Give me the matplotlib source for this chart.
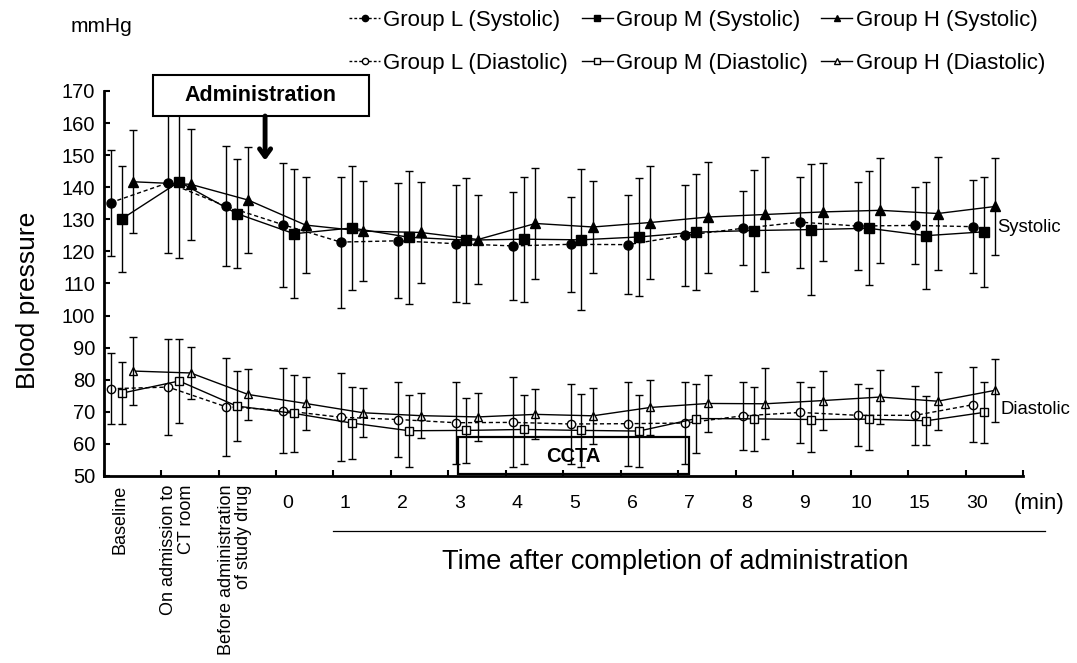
import matplotlib
matplotlib.use("Agg")
import matplotlib.pyplot as plt
from matplotlib.lines import Line2D
from matplotlib.patches import Rectangle
import numpy as np

plt.rcParams['font.family'] = ['Liberation Sans', 'DejaVu Sans']

categories = ["Baseline", "On admission to\nCT room", "Before administration\nof study drug",
              "0", "1", "2", "3", "4", "5", "6", "7", "8", "9", "10", "15", "30"]

sys_L = [135.2, 141.4, 134.1, 128.3, 122.9, 123.3, 122.4, 121.7, 122.2, 122.1, 125.0, 127.2, 129.1, 127.9, 128.1, 127.7]
sd_sys_L = [16.5, 22.0, 18.6, 19.3, 20.4, 17.9, 18.3, 16.9, 14.9, 15.5, 15.7, 11.6, 14.2, 13.7, 11.9, 14.5]
sys_M = [130.1, 141.7, 131.8, 125.5, 127.3, 124.4, 123.5, 123.8, 123.6, 124.5, 126.0, 126.5, 126.8, 127.2, 124.9, 126.1]
sd_sys_M = [16.6, 23.7, 16.9, 20.1, 19.3, 20.8, 19.5, 19.5, 22.0, 18.3, 18.1, 18.9, 20.4, 17.7, 16.6, 17.1]
sys_H = [141.7, 140.9, 136.0, 128.2, 126.3, 125.9, 123.7, 128.7, 127.6, 129.0, 130.7, 131.5, 132.3, 132.8, 131.8, 134.0]
sd_sys_H = [16.0, 17.3, 16.4, 14.9, 15.5, 15.6, 13.9, 17.2, 14.2, 17.6, 17.3, 17.8, 15.2, 16.3, 17.6, 15.1]

dia_L = [77.2, 77.7, 71.6, 70.4, 68.3, 67.6, 66.6, 66.7, 66.2, 66.3, 66.5, 68.75, 69.8, 68.9, 68.9, 72.2]
sd_dia_L = [11.1, 15.0, 15.3, 13.3, 13.7, 11.8, 12.8, 14.0, 12.4, 13.1, 12.7, 10.6, 9.4, 9.7, 9.2, 11.7]
dia_M = [75.8, 79.6, 71.8, 69.5, 66.5, 64.1, 64.2, 64.5, 64.2, 64.0, 67.9, 67.8, 67.6, 67.7, 67.2, 69.8]
sd_dia_M = [9.6, 13.1, 10.8, 12.0, 11.3, 11.2, 10.2, 10.8, 11.3, 11.3, 10.7, 10.0, 10.2, 9.6, 7.7, 9.4]
dia_H = [82.7, 82.1, 75.4, 72.6, 69.7, 68.8, 68.4, 69.2, 68.75, 71.35, 72.6, 72.5, 73.5, 74.6, 73.3, 76.7]
sd_dia_H = [10.6, 8.2, 7.9, 8.3, 7.6, 7.0, 7.4, 7.8, 8.8, 8.6, 8.8, 11.1, 9.2, 8.5, 9.0, 9.8]

fig = plt.figure(figsize=(10.77, 6.63), dpi=100)
ax = fig.add_axes([0.0962, 0.2821, 0.8537, 0.5807])

x = np.arange(len(categories))
offsets = {'L': -0.19, 'M': 0.0, 'H': 0.2}

series = [
    ('L', sys_L, sd_sys_L, 'o', 'black', (0, (3, 2)), 6.5),
    ('M', sys_M, sd_sys_M, 's', 'black', '-', 6.5),
    ('H', sys_H, sd_sys_H, '^', 'black', '-', 7.0),
    ('L', dia_L, sd_dia_L, 'o', 'white', (0, (3, 2)), 6.0),
    ('M', dia_M, sd_dia_M, 's', 'white', '-', 6.0),
    ('H', dia_H, sd_dia_H, '^', 'white', '-', 6.0),
]
for g, vals, sds, mk, fc, ls, ms in series:
    xs = x + offsets[g]
    ax.plot(xs, vals, linestyle=ls, color='black', lw=1.0, marker=mk, ms=ms,
            mfc=fc, mec='black', mew=1.0, zorder=3)
    ax.errorbar(xs, vals, yerr=sds, fmt='none', ecolor='black', elinewidth=1.0,
                capsize=2.6, capthick=1.0, zorder=4)

ax.set_xlim(-0.315, 15.685)
ax.set_ylim(50, 170)
ax.set_yticks(np.arange(50, 171, 10))
ax.set_xticks(np.arange(-1, 16) + 0.685)
ax.set_xticklabels([])
ax.tick_params(axis='both', direction='in', length=4.5, width=1.5, labelsize=14.5)
ax.tick_params(axis='y', pad=6)
for s in ['top', 'right']:
    ax.spines[s].set_visible(False)
for s in ['left', 'bottom']:
    ax.spines[s].set_linewidth(2.0)

xt = ax.get_xaxis_transform()
for i, lab in enumerate(categories):
    if i < 3:
        ax.annotate(lab, xy=(i - 0.03, 0), xycoords=xt, xytext=(0, -6), textcoords='offset points',
                    rotation=90, ha='center', va='top', multialignment='right', fontsize=13,
                    linespacing=1.05)
    else:
        ax.annotate(lab, xy=(i - 0.12, 0), xycoords=xt, xytext=(0, -19.5), textcoords='offset points',
                    ha='center', va='center', fontsize=14)

ax.annotate('(min)', xy=(15.97, 0), xycoords=xt, xytext=(0, -19.5), textcoords='offset points',
            ha='center', va='center', fontsize=16, annotation_clip=False)
ax.plot([3.685, 16.06], [-0.143, -0.143], transform=xt, color='black', lw=0.9, clip_on=False)
ax.text(9.64, -0.223, 'Time after completion of administration', transform=xt,
        ha='center', va='center', fontsize=19.5)

fig.text(28 / 1077, 1 - 300 / 663, 'Blood pressure', rotation=90, ha='center', va='center', fontsize=19)
fig.text(101 / 1077, 1 - 27 / 663, 'mmHg', ha='center', va='center', fontsize=15)

ax.text(15.24, 127.3, 'Systolic', ha='left', va='center', fontsize=13.3)
ax.text(15.29, 70.6, 'Diastolic', ha='left', va='center', fontsize=13.3)

# Administration box and arrow
ax.add_patch(Rectangle((0.545, 162.2), 4.30 - 0.545, 175.0 - 162.2, facecolor='white',
                       edgecolor='black', lw=1.5, clip_on=False, zorder=6))
ax.text(2.42, 168.6, 'Administration', ha='center', va='center', fontsize=15.5,
        fontweight='bold', zorder=7)
ax.annotate('', xy=(2.495, 148.3), xytext=(2.495, 162.2),
            arrowprops=dict(arrowstyle='->,head_length=0.55,head_width=0.4', lw=3.5, color='black',
                            shrinkA=0, shrinkB=0), zorder=7)

# CCTA box
ax.add_patch(Rectangle((5.85, 50.6), 9.875 - 5.85, 62.25 - 50.6, facecolor='none',
                       edgecolor='black', lw=1.6, clip_on=False, zorder=2))
ax.text(7.86, 56.2, 'CCTA', ha='center', va='center', fontsize=14.5, fontweight='bold', zorder=2)

# Legend
handles = [
    Line2D([], [], color='black', ls=(0, (2, 1.5)), lw=1.0, marker='o', ms=4.5, mfc='black', mec='black'),
    Line2D([], [], color='black', ls=(0, (2, 1.5)), lw=1.0, marker='o', ms=4.5, mfc='white', mec='black'),
    Line2D([], [], color='black', ls='-', lw=1.0, marker='s', ms=4.5, mfc='black', mec='black'),
    Line2D([], [], color='black', ls='-', lw=1.0, marker='s', ms=4.5, mfc='white', mec='black'),
    Line2D([], [], color='black', ls='-', lw=1.0, marker='^', ms=4.5, mfc='black', mec='black'),
    Line2D([], [], color='black', ls='-', lw=1.0, marker='^', ms=4.5, mfc='white', mec='black'),
]
labels = ['Group L (Systolic)', 'Group L (Diastolic)', 'Group M (Systolic)',
          'Group M (Diastolic)', 'Group H (Systolic)', 'Group H (Diastolic)']
fig.legend(handles, labels, ncol=3, loc='upper left', bbox_to_anchor=(349 / 1077, 1 - 10 / 663),
           frameon=False, fontsize=16, handlelength=1.4, handletextpad=0.15, columnspacing=0.6,
           labelspacing=1.0, borderpad=0, borderaxespad=0)

fig.savefig('out.png', dpi=100)
